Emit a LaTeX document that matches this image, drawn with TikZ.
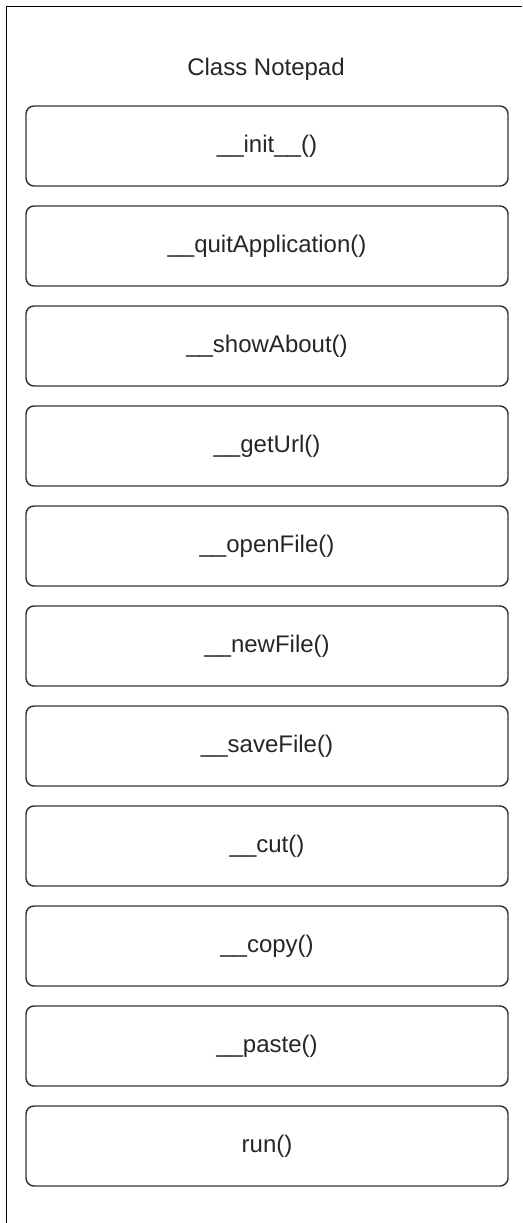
\documentclass[tikz,border=0pt]{standalone}
\usepackage{fontspec}
\setmainfont{Liberation Sans}
\begin{document}
\begin{tikzpicture}[x=0.75pt,y=-0.75pt,
  method/.style={draw=black!80,line width=1.1pt,rounded corners=6pt,
    minimum width=361.5pt,minimum height=60pt,inner sep=0pt,
    font=\fontsize{18}{21}\selectfont,text=black!85},
  titletext/.style={font=\fontsize{18}{21}\selectfont,text=black!85}]
\useasboundingbox (0,0) rectangle (522,1223);
\draw[line width=1.4pt,black] (6.5,1223) -- (6.5,6.5) -- (522,6.5);
\node[titletext] (title) at (266,69) {Class Notepad};
\foreach \i/\t in {0/{\_\_init\_\_()},1/{\_\_quitApplication()},2/{\_\_showAbout()},3/{\_\_getUrl()},4/{\_\_openFile()},5/{\_\_newFile()},6/{\_\_saveFile()},7/{\_\_cut()},8/{\_\_copy()},9/{\_\_paste()},10/{run()}}{
  \node[method] (m\i) at (267,146+100*\i) {\t};
}
\end{tikzpicture}
\end{document}
